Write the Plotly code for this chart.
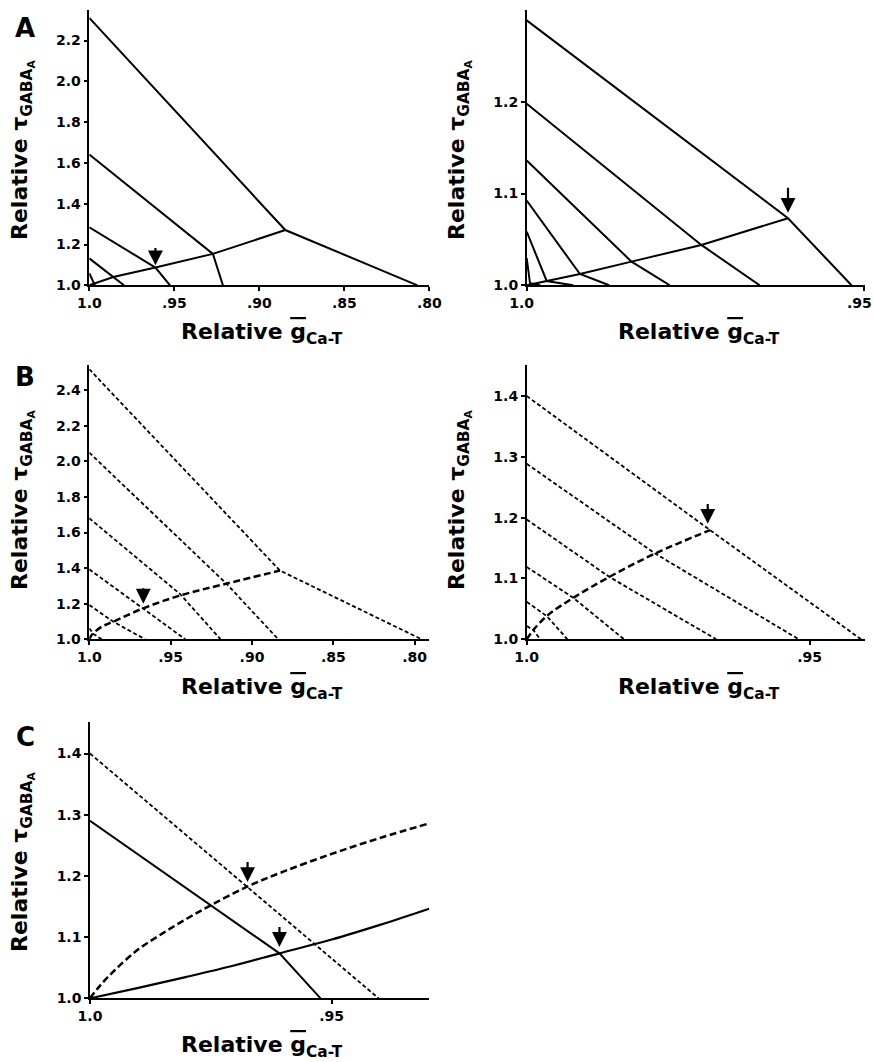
import plotly.graph_objects as go

W, H = 874, 1062
FONT = "DejaVu Sans"

# ---------------- Panel A (left) : solid ----------------
A1_l1_x = [1.0, 0.8847, 0.807]
A1_l1_y = [2.311, 1.271, 1.0]
A1_l2_x = [1.0, 0.9273, 0.9214]
A1_l2_y = [1.641, 1.154, 1.0]
A1_l3_x = [1.0, 0.9611, 0.9525]
A1_l3_y = [1.2845, 1.087, 1.0]
A1_l4_x = [1.0, 0.9859, 0.9796]
A1_l4_y = [1.132, 1.041, 1.0]
A1_l5_x = [1.0, 0.9967]
A1_l5_y = [1.059, 1.0]
A1_rise_x = [1.0, 0.9859, 0.9611, 0.9273, 0.8847]
A1_rise_y = [1.0, 1.041, 1.087, 1.154, 1.271]
A1_arrow = [0.9611, 1.098, 1.19]   # x, tip y, tail y

# ---------------- Panel A (right) : solid ----------------
A2_l1_x = [1.0, 0.9613, 0.9519]
A2_l1_y = [1.2887, 1.0731, 1.0]
A2_l2_x = [1.0, 0.97414, 0.9655]
A2_l2_y = [1.1978, 1.044, 1.0]
A2_l3_x = [1.0, 0.98448, 0.9788]
A2_l3_y = [1.136, 1.0258, 1.0]
A2_l4_x = [1.0, 0.99212, 0.98779]
A2_l4_y = [1.0924, 1.0123, 1.0]
A2_l5_x = [1.0, 0.99704, 0.99311]
A2_l5_y = [1.0585, 1.0047, 1.0]
A2_l6_x = [1.0, 0.99951, 0.998]
A2_l6_y = [1.0295, 1.0022, 1.0]
A2_rise_x = [1.0, 0.99704, 0.99212, 0.98448, 0.97414, 0.9613]
A2_rise_y = [1.0, 1.0047, 1.0123, 1.0258, 1.044, 1.0731]
A2_arrow = [0.9613, 1.079, 1.108]

# ---------------- Panel B (left) : dashed ----------------
B1_l1_x = [1.0, 0.8828, 0.7957]
B1_l1_y = [2.517, 1.386, 1.0]
B1_l2_x = [1.0, 0.91557, 0.8838]
B1_l2_y = [2.049, 1.3109, 1.0]
B1_l3_x = [1.0, 0.94426, 0.9193]
B1_l3_y = [1.680, 1.2547, 1.0]
B1_l4_x = [1.0, 0.9668, 0.9410]
B1_l4_y = [1.393, 1.1742, 1.0]
B1_l5_x = [1.0, 0.98525, 0.96575]
B1_l5_y = [1.1927, 1.0989, 1.0]
B1_l6_x = [1.0, 0.9975, 0.99238]
B1_l6_y = [1.0618, 1.03, 1.0]
B1_rise_x = [1.0, 0.99852, 0.99238, 0.98525, 0.9668, 0.9432, 0.91658, 0.8828]
B1_rise_y = [1.0, 1.0242, 1.0708, 1.0989, 1.1742, 1.2489, 1.3107, 1.386]
B1_arrow = [0.9668, 1.20, 1.295]

# ---------------- Panel B (right) : dashed ----------------
B2_l1_x = [1.0, 0.96758, 0.9409]
B2_l1_y = [1.40, 1.1795, 1.0]
B2_l2_x = [1.0, 0.9773, 0.9519]
B2_l2_y = [1.2885, 1.141, 1.0]
B2_l3_x = [1.0, 0.98539, 0.9665]
B2_l3_y = [1.197, 1.1026, 1.0]
B2_l4_x = [1.0, 0.99176, 0.9828]
B2_l4_y = [1.119, 1.0682, 1.0]
B2_l5_x = [1.0, 0.99646, 0.9928]
B2_l5_y = [1.0616, 1.0382, 1.0]
B2_l6_x = [1.0, 0.99883, 0.9976]
B2_l6_y = [1.0218, 1.0152, 1.0]
B2_rise_x = [1.0, 0.99883, 0.99646, 0.99176, 0.98539, 0.9773, 0.96758]
B2_rise_y = [1.0, 1.0152, 1.0382, 1.0682, 1.1026, 1.141, 1.1795]
B2_arrow = [0.9680, 1.19, 1.225]

# ---------------- Panel C : comparison ----------------
C_dash_x = [1.0, 0.9403]
C_dash_y = [1.40, 1.0]
C_solid_x = [1.0, 0.9608, 0.9523]
C_solid_y = [1.290, 1.0735, 1.0]
C_drise_x = [1.0, 0.998, 0.995, 0.99, 0.985, 0.98, 0.975, 0.9676, 0.96, 0.95, 0.94, 0.92981]
C_drise_y = [1.0, 1.020, 1.045, 1.080, 1.106, 1.130, 1.152, 1.182, 1.207, 1.236, 1.262, 1.2858]
C_srise_x = [1.0, 0.99, 0.98, 0.97, 0.9608, 0.95, 0.94, 0.92981]
C_srise_y = [1.0, 1.017, 1.035, 1.054, 1.0735, 1.096, 1.12, 1.1463]
C_arrow_dash = [0.9674, 1.19, 1.225]
C_arrow_solid = [0.9608, 1.084, 1.119]

# tick definitions
X_WIDE_T = [1.0, 0.95, 0.90, 0.85, 0.80]
X_WIDE_L = ["1.0", ".95", ".90", ".85", ".80"]
X_NAR_T = [1.0, 0.95]
X_NAR_L = ["1.0", ".95"]
YA1_T = [1.0, 1.2, 1.4, 1.6, 1.8, 2.0, 2.2]
YA2_T = [1.0, 1.1, 1.2]
YB1_T = [1.0, 1.2, 1.4, 1.6, 1.8, 2.0, 2.2, 2.4]
YB2_T = [1.0, 1.1, 1.2, 1.3, 1.4]
YC_T = [1.0, 1.1, 1.2, 1.3, 1.4]

fig = go.Figure()

def px_dom_x(a, b):
    return [a / W, b / W]

def px_dom_y(top, bot):
    return [1 - bot / H, 1 - top / H]

panels = [
    ("", px_dom_x(89.3, 429.3), px_dom_y(10, 285.3), [1.0, 0.80], [1.0, 2.35], X_WIDE_T, X_WIDE_L, YA1_T, 0),
    ("2", px_dom_x(526.7, 865), px_dom_y(10, 285.3), [1.0, 0.9499], [1.0, 1.30], X_NAR_T, X_NAR_L, YA2_T, 5),
    ("3", px_dom_x(89.3, 429.3), px_dom_y(365, 639.3), [1.0, 0.791], [1.0, 2.541], X_WIDE_T, X_WIDE_L, YB1_T, 0),
    ("4", px_dom_x(526.7, 865), px_dom_y(365, 639.3), [1.0, 0.9402], [1.0, 1.451], X_NAR_T, X_NAR_L, YB2_T, 0),
    ("5", px_dom_x(90, 429.3), px_dom_y(721.7, 998.3), [1.0, 0.9298], [1.0, 1.452], X_NAR_T, X_NAR_L, YC_T, 0),
]

layout = {}
for name, xd, yd, xr, yr, xt, xl, yt, shift in panels:
    common = dict(showline=True, linecolor="black", linewidth=1.5, ticks="outside",
                  ticklen=4, tickwidth=1.5, tickcolor="black", showgrid=False,
                  zeroline=False, mirror=False, ticklabeloverflow="allow",
                  tickfont=dict(family=FONT, size=14, color="black", weight="bold"))
    layout["xaxis" + name] = dict(domain=xd, range=xr, tickvals=xt, ticktext=xl,
                                  anchor="y" + name, ticklabelshift=shift, **common)
    layout["yaxis" + name] = dict(domain=yd, range=yr, tickvals=yt,
                                  ticktext=[f"{v:.1f}" for v in yt],
                                  anchor="x" + name, **common)

def add_line(xs, ys, ax, dash="solid", width=2.0, shape="linear"):
    fig.add_trace(go.Scatter(x=xs, y=ys, mode="lines", xaxis="x" + ax, yaxis="y" + ax,
                             line=dict(color="black", width=width, dash=dash, shape=shape),
                             showlegend=False, hoverinfo="skip"))

SOL = "solid"
DSH = "4px,2.5px"
DSH2 = "7px,3.5px"

for xs, ys in [(A1_l1_x, A1_l1_y), (A1_l2_x, A1_l2_y), (A1_l3_x, A1_l3_y),
               (A1_l4_x, A1_l4_y), (A1_l5_x, A1_l5_y), (A1_rise_x, A1_rise_y)]:
    add_line(xs, ys, "", SOL, 2.0)
for xs, ys in [(A2_l1_x, A2_l1_y), (A2_l2_x, A2_l2_y), (A2_l3_x, A2_l3_y),
               (A2_l4_x, A2_l4_y), (A2_l5_x, A2_l5_y), (A2_l6_x, A2_l6_y), (A2_rise_x, A2_rise_y)]:
    add_line(xs, ys, "2", SOL, 2.0)
for xs, ys in [(B1_l1_x, B1_l1_y), (B1_l2_x, B1_l2_y), (B1_l3_x, B1_l3_y),
               (B1_l4_x, B1_l4_y), (B1_l5_x, B1_l5_y), (B1_l6_x, B1_l6_y)]:
    add_line(xs, ys, "3", DSH, 1.8)
add_line(B1_rise_x, B1_rise_y, "3", DSH2, 2.5, "spline")
for xs, ys in [(B2_l1_x, B2_l1_y), (B2_l2_x, B2_l2_y), (B2_l3_x, B2_l3_y),
               (B2_l4_x, B2_l4_y), (B2_l5_x, B2_l5_y), (B2_l6_x, B2_l6_y)]:
    add_line(xs, ys, "4", DSH, 1.8)
add_line(B2_rise_x, B2_rise_y, "4", DSH2, 2.5, "spline")
add_line(C_dash_x, C_dash_y, "5", DSH, 1.8)
add_line(C_solid_x, C_solid_y, "5", SOL, 2.0)
add_line(C_drise_x, C_drise_y, "5", DSH2, 2.5, "spline")
add_line(C_srise_x, C_srise_y, "5", SOL, 2.2, "spline")

annotations = []

def arrow(ax, spec):
    x, tip, tail = spec
    annotations.append(dict(x=x, y=tip, ax=x, ay=tail, xref="x" + ax, yref="y" + ax,
                            axref="x" + ax, ayref="y" + ax, showarrow=True, text="",
                            arrowhead=2, arrowsize=1.35, arrowwidth=2.2, arrowcolor="black"))

arrow("", A1_arrow)
arrow("2", A2_arrow)
arrow("3", B1_arrow)
arrow("4", B2_arrow)
arrow("5", C_arrow_dash)
arrow("5", C_arrow_solid)

XTITLE = "Relative <span style='text-decoration:overline'>g</span><sub>Ca-T</sub>"
YTITLE = "Relative \u03c4<sub>GABA<sub>A</sub></sub>"
tfont = dict(family=FONT, size=22, color="black", weight="bold")

def xtitle(cx, cy):
    annotations.append(dict(x=cx / W, y=1 - cy / H, xref="paper", yref="paper",
                            text=XTITLE, showarrow=False, font=tfont,
                            xanchor="center", yanchor="middle"))

def ytitle(cx, cy):
    annotations.append(dict(x=cx / W, y=1 - cy / H, xref="paper", yref="paper",
                            text=YTITLE, showarrow=False, font=tfont, textangle=-90,
                            xanchor="center", yanchor="middle"))

xtitle(262, 333)
xtitle(699, 333)
xtitle(262, 688)
xtitle(699, 688)
xtitle(262, 1046)
ytitle(22, 150)
ytitle(459, 150)
ytitle(22, 500)
ytitle(459, 500)
ytitle(22, 862)

for letter, cx, cy in [("A", 25, 28), ("B", 25, 377), ("C", 25, 737)]:
    annotations.append(dict(x=cx / W, y=1 - cy / H, xref="paper", yref="paper",
                            text=letter, showarrow=False,
                            font=dict(family=FONT, size=26, color="black", weight="bold"),
                            xanchor="center", yanchor="middle"))

fig.update_layout(width=W, height=H, margin=dict(l=0, r=0, t=0, b=0, autoexpand=False),
                  paper_bgcolor="white", plot_bgcolor="white",
                  annotations=annotations, **layout)

fig.write_html("out.html", config={"displayModeBar": False},
               post_script="document.body.style.margin='0';document.body.style.padding='0';")
